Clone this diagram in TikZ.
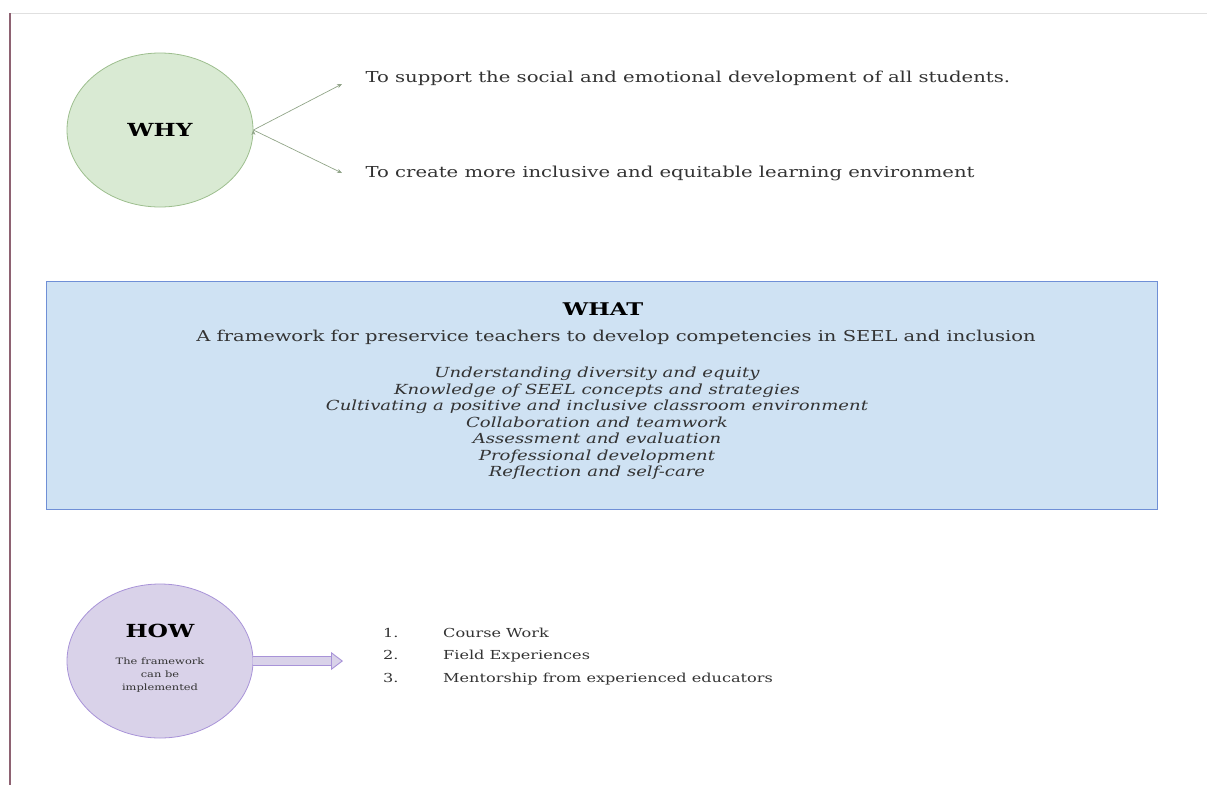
\documentclass[tikz,border=0pt]{standalone}
\usepackage{fontspec}
\setmainfont[FakeStretch=1.3]{DejaVu Serif}
\usepackage{xcolor}
\usetikzlibrary{positioning,arrows.meta,shapes.geometric}

\definecolor{whyfill}{HTML}{D9EAD3}
\definecolor{whyedge}{HTML}{9DBE8E}
\definecolor{whatfill}{HTML}{CFE2F3}
\definecolor{whatedge}{HTML}{6F8FD6}
\definecolor{howfill}{HTML}{D9D2E9}
\definecolor{howedge}{HTML}{A893D8}
\definecolor{bodytext}{HTML}{333333}
\definecolor{sidebar}{HTML}{8E6272}

\begin{document}
\begin{tikzpicture}
      [ x=1pt, y=-1pt,
        bubble/.style={ellipse, draw, line width=0.8pt, minimum width=186pt,
                       minimum height=154pt, inner sep=0pt},
        heading/.style={font=\fontsize{18}{20}\selectfont\bfseries, text=black},
        plain/.style={font=\fontsize{15.1}{17}\selectfont, text=bodytext},
        pointer/.style={draw=whyedge!60!gray, line width=0.7pt,
                        -{Stealth[length=5pt,width=4pt]}}
      ]
      \useasboundingbox (0,0) rectangle (1207,785);
      % frame of the page
      \draw[black!12, line width=1.2pt] (10,13.5) -- (1207,13.5);
      \draw[sidebar, line width=2.5pt] (10,13) -- (10,785);

      % WHY
      \node[bubble, fill=whyfill, draw=whyedge] (why) at (160,130) {};
      \node[heading] (whytitle) at (why.center) {WHY};
      \node[plain, anchor=west] (support) at (362,78)
            {To support the social and emotional development of all students.};
      \node[plain, anchor=west] (create) at (362,173)
            {To create more inclusive and equitable learning environment};
      \coordinate (supporttip) at (342,84);
      \coordinate (createtip)  at (342,173);
      \path[pointer] (why.east) edge (supporttip)
                     (why.east) edge (createtip);

      % WHAT
      \node[rectangle, draw=whatedge, fill=whatfill, line width=1pt,
            minimum width=1111pt, minimum height=228pt] (what) at (601.5,395) {};
      \node[heading, font=\fontsize{17.5}{19}\selectfont\bfseries] (whattitle) at (603,309) {WHAT};
      \node[plain, font=\fontsize{15}{17}\selectfont] (whatsub) at (616,337)
            {A framework for preservice teachers to develop competencies in SEEL and inclusion};
      \node[text=bodytext, align=center, font=\fontsize{13.9}{16.5}\selectfont\itshape]
            (whatlist) at (597,423.5)
            {Understanding diversity and equity\\
             Knowledge of SEEL concepts and strategies\\
             Cultivating a positive and inclusive classroom environment\\
             Collaboration and teamwork\\
             Assessment and evaluation\\
             Professional development\\
             Reflection and self-care};

      % HOW
      \node[bubble, fill=howfill, draw=howedge] (how) at (160,661) {};
      \node[heading] (howtitle) at (160,631) {HOW};
      \node[text=bodytext, align=center, font=\fontsize{8.8}{13.2}\selectfont]
            (hownote) at (160,675) {The framework\\can be\\implemented};
      \node[plain, anchor=west, inner sep=0pt,
            font=\fontsize{12.4}{22.5}\selectfont] (howlist) at (383,655)
            {\begin{tabular}{@{}p{60pt}@{}l@{}}
             1. & Course Work\\
             2. & Field Experiences\\
             3. & Mentorship from experienced educators
             \end{tabular}};
      \coordinate (howtip) at (343,661);
      \draw[draw=howedge, line width=0.9pt, double=howfill, double distance=8.5pt,
            -{Triangle[length=12pt,width=18pt,fill=howfill]}] (how.east) -- (howtip);
\end{tikzpicture}
\end{document}
